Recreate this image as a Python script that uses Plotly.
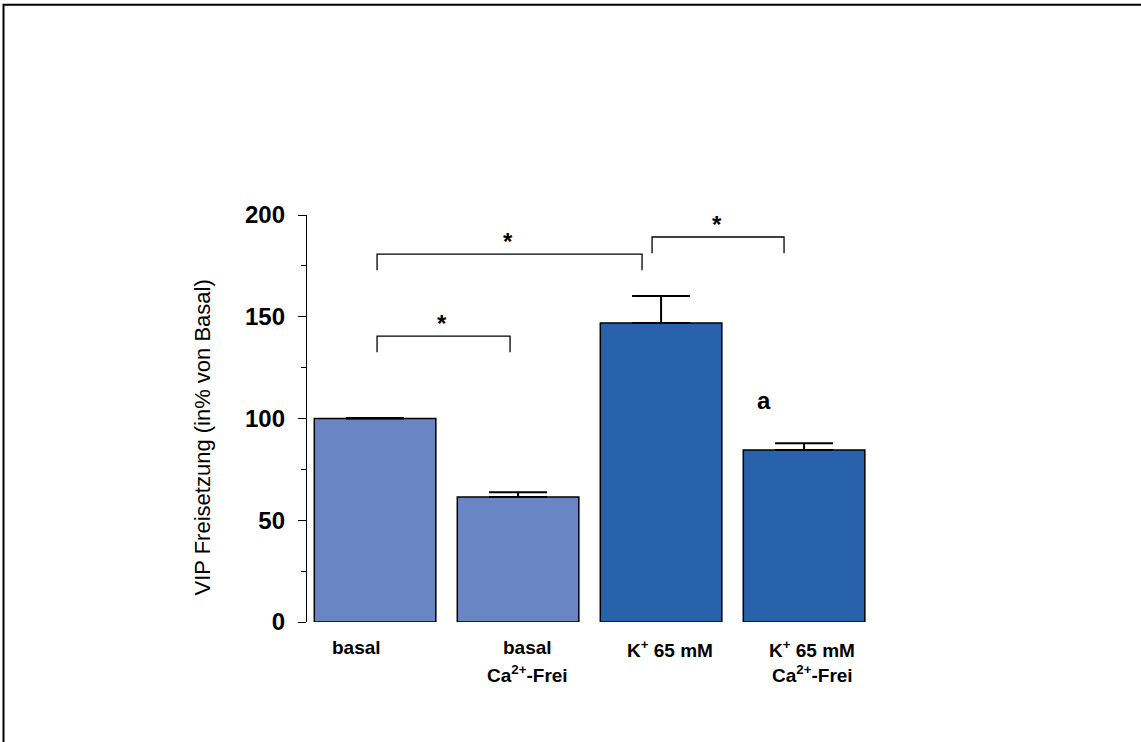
import plotly.graph_objects as go

# ---- data ----
categories = ["basal", "basal<br>Ca<sup>2+</sup>-Frei", "K<sup>+</sup> 65 mM", "K<sup>+</sup> 65 mM<br>Ca<sup>2+</sup>-Frei"]
values = [100.0, 61.4, 146.9, 84.5]
errors = [0.3, 2.3, 13.3, 3.3]
bar_colors = ["#6A85C4", "#6A85C4", "#2862AD", "#2862AD"]
# significance brackets: (from index, to index, bracket height)
brackets = [(0, 1, 140.5), (0, 2, 180.8), (2, 3, 189.2)]
y_ticks = [0, 50, 100, 150, 200]
y_title = "VIP Freisetzung (in% von Basal)"

W, H = 1141, 742
L, R_, T, B = 307, 261, 215, 120
pw = W - L - R_
ph = H - T - B
FONT = "Arial, Liberation Sans"

fig = go.Figure()
fig.add_trace(go.Bar(
    x=list(range(len(categories))), y=values,
    marker=dict(color=bar_colors, line=dict(color="black", width=1.5)),
    width=0.85,
    error_y=dict(type="data", array=errors, arrayminus=[0]*len(errors), symmetric=False,
                 color="black", thickness=2, width=29),
    showlegend=False, hoverinfo="skip",
))

# brackets
drop = 8.0
for (i, j, yb) in brackets:
    if i == 2:
        x0 = i - 0.063
        x1 = j - 0.14
    else:
        x0 = i + 0.014
        x1 = j - (0.133 if j - i > 1 else 0.056)
    fig.add_trace(go.Scatter(
        x=[x0, x0, x1, x1], y=[yb - drop, yb, yb, yb - drop],
        mode="lines", line=dict(color="black", width=1.3),
        showlegend=False, hoverinfo="skip", cliponaxis=False,
    ))
    fig.add_annotation(x=(x0 + x1) / 2 - 0.01, y=yb + 6.0, text="<b>*</b>", showarrow=False,
                       font=dict(family=FONT, size=24, color="black"),
                       yanchor="middle")

# 'a' label
fig.add_annotation(x=2.72, y=109, text="<b>a</b>", showarrow=False,
                   font=dict(family=FONT, size=24, color="black"))

# category labels (each line placed separately for the wider line spacing)
label_shift = [-19, 9, 9, 8]
for k, c in enumerate(categories):
    for n, line in enumerate(c.split("<br>")):
        fig.add_annotation(x=k, xshift=label_shift[k], y=0, yshift=-13 - 25 * n, yanchor="top",
                           text="<b>" + line + "</b>", showarrow=False, align="center",
                           font=dict(family=FONT, size=19, color="black"))

# y axis title
fig.add_annotation(xref="paper", yref="paper", x=(187 - L) / pw, y=(H - B - 438) / ph,
                   text=y_title, textangle=-90, showarrow=False,
                   font=dict(family=FONT, size=22, color="black"))

# frame around figure
fig.add_shape(type="rect", xref="paper", yref="paper",
              x0=(3.5 - L) / pw, x1=(W + 20 - L) / pw,
              y0=(H - B - (H + 20)) / ph, y1=(H - B - 4.7) / ph,
              line=dict(color="black", width=2), fillcolor="rgba(0,0,0,0)", layer="below")

fig.update_layout(
    width=W, height=H,
    margin=dict(l=L, r=R_, t=T, b=B),
    paper_bgcolor="white", plot_bgcolor="white",
    xaxis=dict(range=[-0.476, 3.531], showticklabels=False, showline=False, showgrid=False,
               zeroline=False, ticks=""),
    yaxis=dict(range=[0, 200], tickvals=y_ticks, showgrid=False, zeroline=False,
               showline=True, linecolor="black", linewidth=1.3,
               ticks="outside", ticklen=8, tickcolor="black", tickwidth=1.3,
               minor=dict(dtick=25, ticks="outside", ticklen=5, tickcolor="black", tickwidth=1.3),
               tickfont=dict(family=FONT, size=24, color="black", weight="bold"),
               ticklabelstandoff=8),
    font=dict(family=FONT),
)

fig.write_html("out.html", config={"displayModeBar": False},
               post_script="document.body.style.margin='0';document.body.style.overflow='hidden';")
